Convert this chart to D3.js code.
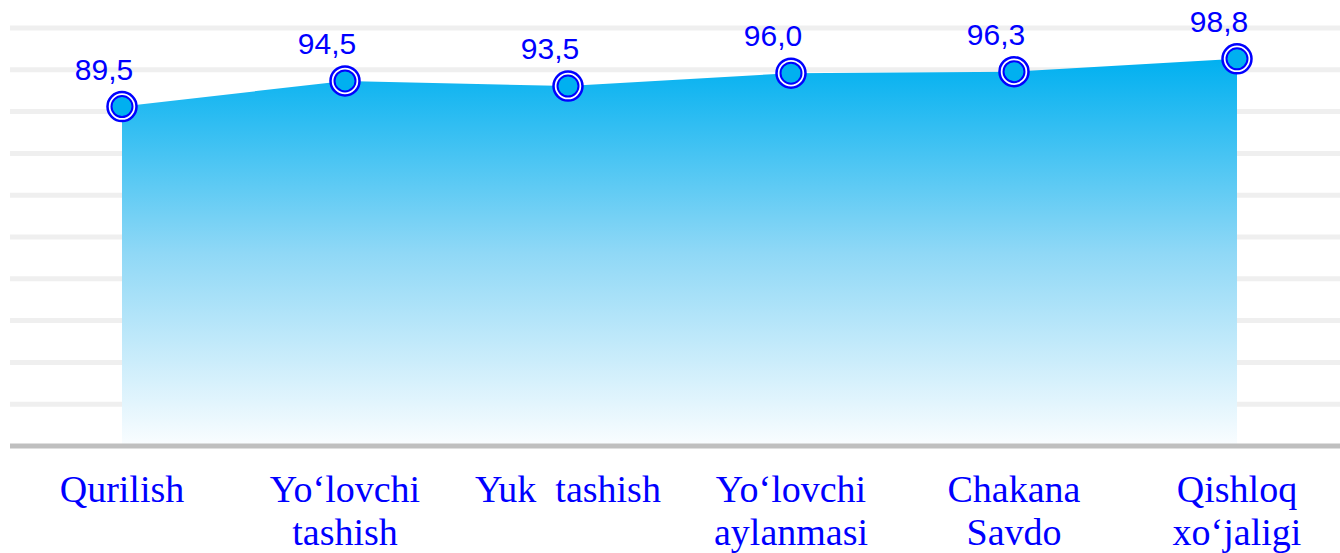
<!DOCTYPE html>
<html lang="en">
<head>
<meta charset="utf-8">
<title>Area chart with D3.js</title>
<style>
body { margin: 0; background: #fff; }
.grid line { stroke: #efefef; stroke-width: 5; }
.base { stroke: #bfbfbf; stroke-width: 5; }
.value { fill: #0000ff; font-family: "Liberation Sans", Arial, sans-serif; font-size: 30px; text-anchor: middle; }
.cat { fill: #0000ff; font-family: "Liberation Serif", "Times New Roman", serif; font-size: 38px; text-anchor: middle; white-space: pre; }
</style>
</head>
<body>
<div id="chartID"></div>
<script src="https://d3js.org/d3.v7.min.js"></script>
<script>
// categories (each entry is the lines of the label)
var categories = [
    ["Qurilish"],
    ["Yo\u2018lovchi", "tashish"],
    ["Yuk  tashish"],
    ["Yo\u2018lovchi", "aylanmasi"],
    ["Chakana", "Savdo"],
    ["Qishloq", "xo\u2018jaligi"]
];
var values = [89.5, 94.5, 93.5, 96.0, 96.3, 98.8];
var valueLabels = ["89,5", "94,5", "93,5", "96,0", "96,3", "98,8"];

var W = 1340, H = 553;
var svg = d3.select("#chartID").append("svg").attr("width", W).attr("height", H);

var x = d3.scaleBand().domain(d3.range(categories.length)).range([10.5, 1348.5]);
var y = d3.scaleLinear().domain([23.4, 104.8]).range([446, 28]);

// gridlines: 10 even steps over the domain
var d0 = y.domain()[0], d1 = y.domain()[1];
var gridVals = d3.range(1, 11).map(function(i) { return d0 + i * (d1 - d0) / 10; });

svg.append("g").attr("class", "grid")
    .selectAll("line")
    .data(gridVals)
    .enter()
    .append("line")
    .attr("x1", 10).attr("x2", W)
    .attr("y1", function(d) { return y(d); })
    .attr("y2", function(d) { return y(d); });

// gradient for area
var defs = svg.append("defs");
var grad = defs.append("linearGradient")
    .attr("id", "areaGrad")
    .attr("gradientUnits", "userSpaceOnUse")
    .attr("x1", 0).attr("x2", 0)
    .attr("y1", y(d3.max(values))).attr("y2", y(d0));
grad.append("stop").attr("offset", "0").attr("stop-color", "#00b0f0");
grad.append("stop").attr("offset", "0.5").attr("stop-color", "#8fd8f6");
grad.append("stop").attr("offset", "1").attr("stop-color", "#fafdff");

var cx = function(d, i) { return x(i) + x.bandwidth() / 2; };

var area = d3.area()
    .x(cx)
    .y0(y(d0))
    .y1(function(d) { return y(d); });

svg.append("path")
    .datum(values)
    .attr("d", area)
    .attr("fill", "url(#areaGrad)");

// baseline
svg.append("line").attr("class", "base")
    .attr("x1", 10).attr("x2", W)
    .attr("y1", y(d0)).attr("y2", y(d0));

// markers
var pts = svg.selectAll(".pt")
    .data(values)
    .enter()
    .append("g")
    .attr("class", "pt")
    .attr("transform", function(d, i) { return "translate(" + cx(d, i) + "," + y(d) + ")"; });
pts.append("circle").attr("r", 14.5).attr("fill", "#fff").attr("stroke", "#0000ff").attr("stroke-width", 2.5);
pts.append("circle").attr("r", 10.5).attr("fill", "#00b0f0").attr("stroke", "#0000ff").attr("stroke-width", 2);

// value labels
svg.selectAll(".value")
    .data(values)
    .enter()
    .append("text")
    .attr("class", "value")
    .attr("x", function(d, i) { return cx(d, i) - 18; })
    .attr("y", function(d) { return y(d) - 27; })
    .text(function(d, i) { return valueLabels[i]; });

// category labels
var cat = svg.selectAll(".cat")
    .data(categories)
    .enter()
    .append("text")
    .attr("class", "cat")
    .attr("x", function(d, i) { return x(i) + x.bandwidth() / 2; })
    .attr("y", 502);
cat.selectAll("tspan")
    .data(function(d) { return d; })
    .enter()
    .append("tspan")
    .attr("x", function() { return d3.select(this.parentNode).attr("x"); })
    .attr("dy", function(d, i) { return i === 0 ? 0 : 43; })
    .text(function(d) { return d; });
</script>
</body>
</html>
